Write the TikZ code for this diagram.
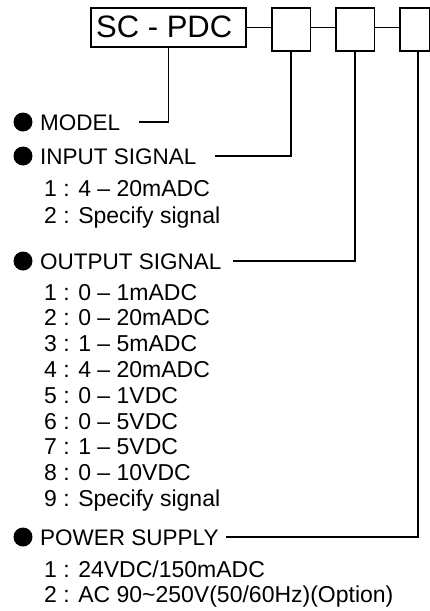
\documentclass[tikz,border=0pt]{standalone}
\usepackage{fontspec}
\setmainfont{Liberation Sans}
\begin{document}
\begin{tikzpicture}[x=1pt,y=-1pt,
  ln/.style={line width=1.6pt},
  box/.style={draw, line width=1.8pt, inner sep=0pt, anchor=north west},
  dot/.style={circle, fill=black, inner sep=0pt, minimum size=19pt},
  head/.style={anchor=base west, inner sep=0pt, font=\fontsize{22.5}{22.5}\selectfont},
  item/.style={anchor=base west, inner sep=0pt, font=\fontsize{23}{23}\selectfont}]
\useasboundingbox (0,0) rectangle (430,611);
% boxes
\node[box, minimum width=155pt, minimum height=39pt] (main) at (90,7) {};
\node[font=\fontsize{31}{31}\selectfont, inner sep=0pt, anchor=base west] (title) at (96,37.5) {SC - PDC};
\node[box, minimum width=38.5pt, minimum height=43pt] (b1) at (271,7) {};
\node[box, minimum width=38.5pt, minimum height=43pt] (b2) at (335,7) {};
\node[box, minimum width=29.5pt, minimum height=43pt] (b3) at (399,7) {};
\draw[ln] (main.east) -- (main.east -| b1.west);
\draw[ln] (b1.west |- main.east) coordinate (b1w) (b1.east |- main.east) -- (b2.west |- main.east);
\draw[ln] (b2.east |- main.east) -- (b3.west |- main.east);
% headings
\node[dot] (d1) at (23,122) {};
\node[head] (model) at (40,130) {MODEL};
\node[dot] (d2) at (23,156) {};
\node[head] (input) at (40,164) {INPUT SIGNAL};
\node[dot] (d3) at (23,261) {};
\node[head] (output) at (40,269) {OUTPUT SIGNAL};
\node[dot] (d4) at (23,537) {};
\node[head] (power) at (40,545) {POWER SUPPLY};
% items
\node[item] (i1) at (44,196) {1 : 4 -- 20mADC};
\node[item] (i2) at (44,223) {2 : Specify signal};
\node[item] (o1) at (44,300.0) {1 : 0 -- 1mADC};
\node[item] (o2) at (44,325.8) {2 : 0 -- 20mADC};
\node[item] (o3) at (44,351.6) {3 : 1 -- 5mADC};
\node[item] (o4) at (44,377.4) {4 : 4 -- 20mADC};
\node[item] (o5) at (44,403.2) {5 : 0 -- 1VDC};
\node[item] (o6) at (44,429.0) {6 : 0 -- 5VDC};
\node[item] (o7) at (44,454.8) {7 : 1 -- 5VDC};
\node[item] (o8) at (44,480.6) {8 : 0 -- 10VDC};
\node[item] (o9) at (44,506.4) {9 : Specify signal};
\node[item] (p1) at (44,577) {1 : 24VDC/150mADC};
\node[item] (p2) at (44,602) {2 : AC 90\char"007E 250V(50/60Hz)(Option)};
% connector ends
\coordinate (e1) at (139,122);
\coordinate (e2) at (215,156);
\coordinate (e3) at (233,261);
\coordinate (e4) at (226,537);
\coordinate (c3) at (418,50);
\draw[ln] (main.south) |- (e1);
\draw[ln] (b1.south) |- (e2);
\draw[ln] (b2.south) |- (e3);
\draw[ln] (c3) |- (e4);
\end{tikzpicture}
\end{document}
